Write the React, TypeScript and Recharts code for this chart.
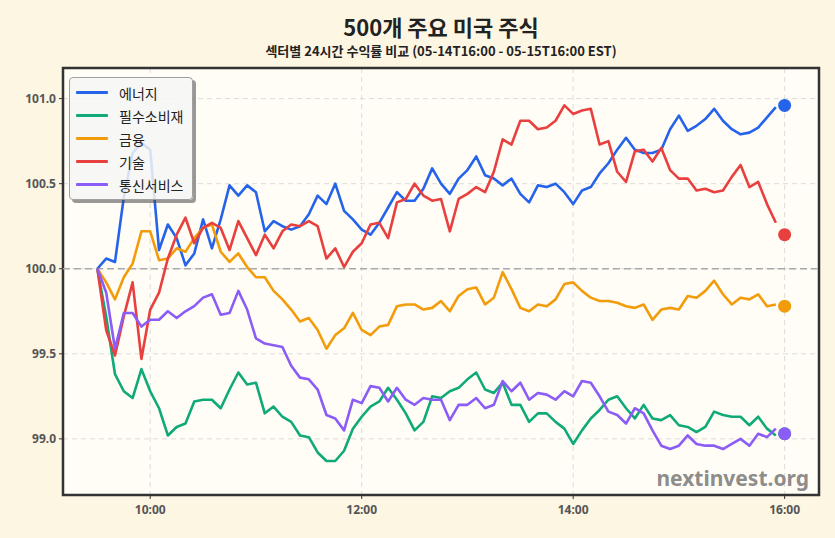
import React from "react";
import {
  LineChart,
  Line,
  XAxis,
  YAxis,
  CartesianGrid,
  ReferenceLine,
  ReferenceArea,
  Legend,
} from "recharts";

// 5-minute timestamps (EST) for the session
const times = [
  "09:30", "09:35", "09:40", "09:45", "09:50", "09:55", "10:00", "10:05", "10:10", "10:15",
  "10:20", "10:25", "10:30", "10:35", "10:40", "10:45", "10:50", "10:55", "11:00", "11:05",
  "11:10", "11:15", "11:20", "11:25", "11:30", "11:35", "11:40", "11:45", "11:50", "11:55",
  "12:00", "12:05", "12:10", "12:15", "12:20", "12:25", "12:30", "12:35", "12:40", "12:45",
  "12:50", "12:55", "13:00", "13:05", "13:10", "13:15", "13:20", "13:25", "13:30", "13:35",
  "13:40", "13:45", "13:50", "13:55", "14:00", "14:05", "14:10", "14:15", "14:20", "14:25",
  "14:30", "14:35", "14:40", "14:45", "14:50", "14:55", "15:00", "15:05", "15:10", "15:15",
  "15:20", "15:25", "15:30", "15:35", "15:40", "15:45", "15:50", "15:55",
];

const energy = [
  100.0, 100.06, 100.04, 100.42, 100.68, 100.74, 100.7, 100.11, 100.26, 100.18,
  100.02, 100.09, 100.29, 100.12, 100.29, 100.49, 100.43, 100.49, 100.45, 100.22,
  100.28, 100.25, 100.23, 100.25, 100.32, 100.43, 100.38, 100.5, 100.34, 100.29,
  100.23, 100.2, 100.27, 100.36, 100.45, 100.4, 100.4, 100.47, 100.59, 100.5,
  100.44, 100.53, 100.58, 100.66, 100.55, 100.53, 100.49, 100.53, 100.44, 100.39,
  100.49, 100.48, 100.5, 100.45, 100.38, 100.46, 100.48, 100.56, 100.62, 100.7,
  100.77, 100.7, 100.68, 100.68, 100.7, 100.82, 100.9, 100.81, 100.84, 100.88,
  100.94, 100.87, 100.82, 100.79, 100.8, 100.83, 100.89, 100.95,
];

const staples = [
  100.0, 99.72, 99.38, 99.28, 99.24, 99.41, 99.28, 99.18, 99.02, 99.07,
  99.09, 99.22, 99.23, 99.23, 99.18, 99.29, 99.39, 99.32, 99.33, 99.15,
  99.19, 99.13, 99.1, 99.02, 99.01, 98.92, 98.87, 98.87, 98.93, 99.06,
  99.13, 99.19, 99.22, 99.3, 99.23, 99.15, 99.05, 99.1, 99.25, 99.24,
  99.28, 99.3, 99.35, 99.39, 99.29, 99.27, 99.33, 99.2, 99.2, 99.1,
  99.15, 99.15, 99.1, 99.06, 98.97, 99.05, 99.12, 99.17, 99.23, 99.25,
  99.18, 99.12, 99.2, 99.12, 99.11, 99.14, 99.08, 99.07, 99.04, 99.07,
  99.16, 99.14, 99.13, 99.13, 99.08, 99.13, 99.06, 99.02,
];

const finance = [
  100.0, 99.92, 99.82, 99.95, 100.03, 100.22, 100.22, 100.05, 100.06, 100.12,
  100.1, 100.18, 100.24, 100.26, 100.1, 100.04, 100.09, 100.01, 99.95, 99.95,
  99.87, 99.82, 99.76, 99.69, 99.71, 99.64, 99.53, 99.61, 99.65, 99.74,
  99.64, 99.61, 99.66, 99.67, 99.78, 99.79, 99.79, 99.76, 99.77, 99.81,
  99.75, 99.84, 99.88, 99.89, 99.79, 99.83, 99.98, 99.88, 99.77, 99.75,
  99.79, 99.78, 99.82, 99.91, 99.92, 99.87, 99.83, 99.81, 99.81, 99.8,
  99.78, 99.77, 99.79, 99.7, 99.76, 99.77, 99.76, 99.84, 99.83, 99.87,
  99.93, 99.85, 99.79, 99.83, 99.82, 99.85, 99.78, 99.79,
];

const tech = [
  100.0, 99.64, 99.49, 99.72, 99.92, 99.47, 99.76, 99.86, 100.06, 100.2,
  100.3, 100.15, 100.24, 100.27, 100.24, 100.11, 100.28, 100.18, 100.08, 100.2,
  100.12, 100.22, 100.26, 100.25, 100.28, 100.25, 100.06, 100.12, 100.01, 100.1,
  100.15, 100.26, 100.27, 100.18, 100.39, 100.41, 100.5, 100.43, 100.4, 100.41,
  100.22, 100.41, 100.44, 100.48, 100.45, 100.57, 100.76, 100.73, 100.87, 100.87,
  100.82, 100.83, 100.87, 100.96, 100.91, 100.93, 100.94, 100.73, 100.75, 100.57,
  100.51, 100.69, 100.7, 100.63, 100.71, 100.58, 100.53, 100.53, 100.46, 100.47,
  100.45, 100.46, 100.54, 100.61, 100.48, 100.51, 100.38, 100.27,
];

const comm = [
  100.0, 99.86, 99.53, 99.74, 99.74, 99.66, 99.7, 99.7, 99.75, 99.71,
  99.75, 99.78, 99.83, 99.85, 99.73, 99.74, 99.87, 99.76, 99.59, 99.56,
  99.55, 99.54, 99.43, 99.36, 99.35, 99.29, 99.14, 99.12, 99.05, 99.23,
  99.21, 99.31, 99.3, 99.22, 99.3, 99.23, 99.2, 99.24, 99.23, 99.23,
  99.11, 99.2, 99.2, 99.24, 99.18, 99.2, 99.34, 99.28, 99.33, 99.23,
  99.27, 99.26, 99.23, 99.28, 99.25, 99.34, 99.33, 99.25, 99.16, 99.14,
  99.09, 99.18, 99.15, 99.05, 98.96, 98.94, 98.96, 99.02, 98.97, 98.96,
  98.96, 98.94, 98.97, 99.0, 98.96, 99.03, 99.01, 99.06,
];

// closing marker at 16:00
const endTime = "16:00";
const endValues = [100.96, 99.03, 99.78, 100.2, 99.03];

const sectorKeys = ["energy", "staples", "finance", "tech", "comm"];
const sectorNames = ["에너지", "필수소비재", "금융", "기술", "통신서비스"];
const sectorColors = ["#2563eb", "#10a978", "#f29c0c", "#e8403f", "#8b5cf6"];
const seriesValues = [energy, staples, finance, tech, comm];

const xTickLabels = ["10:00", "12:00", "14:00", "16:00"];
const yTicks = [99.0, 99.5, 100.0, 100.5, 101.0];

const toMin = (s: string) => {
  const [h, m] = s.split(":").map(Number);
  return h * 60 + m;
};
const fmtTime = (v: number) =>
  `${String(Math.floor(v / 60)).padStart(2, "0")}:${String(v % 60).padStart(2, "0")}`;

const data: any[] = times.map((t, i) => {
  const row: any = { t: toMin(t) };
  sectorKeys.forEach((k, j) => (row[k] = seriesValues[j][i]));
  return row;
});
const endRow: any = { t: toMin(endTime) };
sectorKeys.forEach((k, j) => (endRow[k + "End"] = endValues[j]));
data.push(endRow);

const xDomain = [550.5, 979.5];
const yDomain = [98.67, 101.18];

const SectorLegend = () => (
  <div
    style={{
      boxSizing: "border-box",
      width: 124,
      background: "rgba(246,246,246,0.86)",
      border: "1px solid #a0a0a0",
      borderRadius: 4,
      boxShadow: "3px 3px 0 rgba(70,70,70,0.55)",
      padding: "3px 0 3px 6px",
      fontFamily: "'Noto Sans CJK KR', 'Noto Sans', sans-serif",
      fontSize: 14,
      color: "#222",
      whiteSpace: "nowrap",
    }}
  >
    {sectorNames.map((name, i) => (
      <div key={name} style={{ display: "flex", alignItems: "center", height: 23 }}>
        <span
          style={{
            display: "inline-block",
            width: 32,
            height: 3,
            background: sectorColors[i],
            borderRadius: 1,
            marginRight: 11,
            flexShrink: 0,
          }}
        />
        <span>{name}</span>
      </div>
    ))}
  </div>
);

export default function App() {
  return (
    <div
      style={{
        position: "relative",
        width: 835,
        height: 538,
        background: "#fdf6e3",
        fontFamily: "'Noto Sans CJK KR', 'Noto Sans', sans-serif",
      }}
    >
      <style>{"body{margin:0;background:#fdf6e3}"}</style>
      <div
        style={{
          position: "absolute",
          top: 10,
          left: 63,
          width: 756,
          textAlign: "center",
          fontSize: 22,
          fontWeight: 700,
          color: "#222",
          lineHeight: "32px",
        }}
      >
        500개 주요 미국 주식
      </div>
      <div
        style={{
          position: "absolute",
          top: 42,
          left: 63,
          width: 756,
          textAlign: "center",
          fontSize: 13,
          fontWeight: 700,
          color: "#222",
          lineHeight: "18px",
        }}
      >
        섹터별 24시간 수익률 비교 (05-14T16:00 - 05-15T16:00 EST)
      </div>
      <LineChart
        width={835}
        height={538}
        data={data}
        margin={{ top: 68, right: 16, bottom: 13, left: 8 }}
        style={{ position: "absolute", top: 0, left: 0 }}
      >
        <CartesianGrid
          fill="#fffdf6"
          stroke="#dcdcdc"
          strokeDasharray="5 4"
          verticalValues={xTickLabels.map(toMin)}
          horizontalValues={yTicks}
        />
        <ReferenceLine y={100} stroke="#aaaaaa" strokeWidth={1.5} strokeDasharray="7 4" />
        <XAxis
          dataKey="t"
          type="number"
          domain={xDomain}
          ticks={xTickLabels.map(toMin)}
          tickFormatter={fmtTime}
          height={30}
          axisLine={false}
          tickSize={4}
          tickMargin={6}
          tickLine={{ stroke: "#333" }}
          tick={{ fill: "#555", fontSize: 12, fontWeight: 700, fontFamily: "'Noto Sans', sans-serif" }}
          allowDataOverflow
        />
        <YAxis
          type="number"
          domain={yDomain}
          ticks={yTicks}
          tickFormatter={(v: number) => v.toFixed(1)}
          width={55}
          axisLine={false}
          tickSize={4}
          tickMargin={3}
          tickLine={{ stroke: "#333" }}
          tick={{ fill: "#555", fontSize: 12, fontWeight: 700, fontFamily: "'Noto Sans', sans-serif" }}
          allowDataOverflow
        />
        {sectorKeys.map((k, i) => (
          <Line
            key={k}
            dataKey={k}
            type="linear"
            stroke={sectorColors[i]}
            strokeWidth={2.6}
            dot={false}
            activeDot={false}
            isAnimationActive={false}
            strokeLinejoin="round"
          />
        ))}
        {sectorKeys.map((k, i) => (
          <Line
            key={k + "End"}
            dataKey={k + "End"}
            stroke="none"
            dot={{ r: 6.5, fill: sectorColors[i], stroke: "none" }}
            activeDot={false}
            isAnimationActive={false}
            legendType="none"
          />
        ))}
        <ReferenceArea
          x1={xDomain[0]}
          x2={xDomain[1]}
          y1={yDomain[0]}
          y2={yDomain[1]}
          fill="none"
          stroke="#333"
          strokeWidth={2.5}
          ifOverflow="visible"
        />
        <Legend
          layout="horizontal"
          align="center"
          verticalAlign="middle"
          content={<SectorLegend />}
          wrapperStyle={{ left: 69, top: 77, width: 124, height: "auto" }}
        />
      </LineChart>
      <div
        style={{
          position: "absolute",
          right: 26,
          top: 464,
          fontSize: 21,
          fontWeight: 700,
          color: "rgba(110,110,110,0.8)",
          fontFamily: "'Noto Sans', sans-serif",
        }}
      >
        nextinvest.org
      </div>
    </div>
  );
}
